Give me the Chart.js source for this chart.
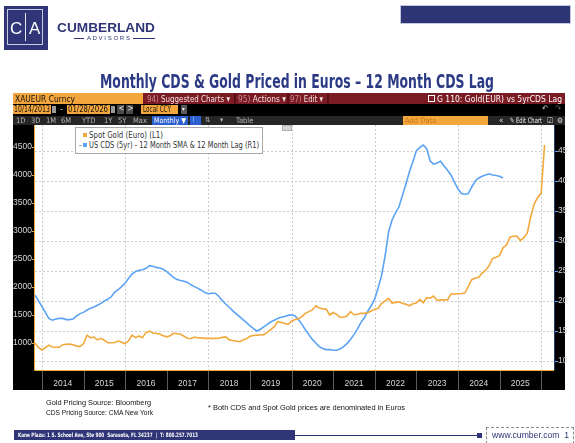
<!DOCTYPE html>
<html><head><meta charset="utf-8">
<script src="https://cdn.jsdelivr.net/npm/chart.js@4.4.1/dist/chart.umd.min.js"></script>
<style>
html,body{margin:0;padding:0;background:#fff;width:575px;height:443px;overflow:hidden;}
#wrap{position:relative;width:575px;height:443px;}
canvas{position:absolute;left:0;top:0;}
.a{position:absolute;white-space:nowrap;line-height:1;}
.f{display:inline-block;transform-origin:0 0;}
.bb{font-family:"Liberation Sans Narrow","DejaVu Sans Condensed","Liberation Sans","DejaVu Sans",sans-serif;}
.ar{font-family:"Liberation Sans",Arial,sans-serif;}
.box{position:absolute;}
</style></head>
<body><div id="wrap">
<canvas id="c" width="575" height="443"></canvas>

<!-- logo -->
<div class="box" style="left:4px;top:6px;width:44px;height:44px;background:#2f3576;"></div>
<div class="box" style="left:7px;top:9px;width:36px;height:36px;border:1px solid #c9cbe0;box-sizing:border-box;"></div>
<div class="box" style="left:25px;top:13px;width:1px;height:28px;background:#e6e7f0;"></div>
<div class="a ar" style="left:10px;top:20px;font-size:17px;color:#fff;">C</div>
<div class="a ar" style="left:29px;top:20px;font-size:17px;color:#fff;">A</div>
<div class="a ar" style="left:57px;top:22px;font-size:12px;color:#2f3576;font-weight:bold;"><span class="f" data-w="98">CUMBERLAND</span></div>
<div class="box" style="left:74px;top:38px;width:10px;height:1px;background:#2f3576;"></div>
<div class="box" style="left:133px;top:38px;width:22px;height:1px;background:#2f3576;"></div>
<div class="a ar" style="left:87px;top:35.5px;font-size:5.5px;color:#2f3576;"><span class="f" data-w="43">A D V I S O R S</span></div>
<div class="box" style="left:401px;top:6px;width:169px;height:17px;background:#2e3574;box-shadow:0 0 0 1px #c4c6e2;"></div>

<!-- title -->
<div class="a bb" style="left:100px;top:72px;font-size:19px;font-weight:bold;color:#2c3a85;"><span class="f" data-w="394">Monthly CDS &amp; Gold Priced in Euros – 12 Month CDS Lag</span></div>

<!-- bloomberg row 1 -->
<div class="box" style="left:13px;top:93px;width:130px;height:11px;background:#f3a63c;"></div>
<div class="box" style="left:143px;top:93px;width:422px;height:11px;background:#7b1b24;"></div>
<div class="box" style="left:234px;top:93px;width:2px;height:11px;background:#5a0f16;"></div>
<div class="box" style="left:287px;top:93px;width:2px;height:11px;background:#5a0f16;"></div>
<div class="box" style="left:327px;top:93px;width:2px;height:11px;background:#5a0f16;"></div>
<div class="a bb" style="left:15px;top:94px;font-size:9.5px;color:#111;"><span class="f" data-w="60">XAUEUR Curncy</span></div>
<div class="a bb" style="left:147px;top:94px;font-size:9.5px;color:#f3e3e3;"><span class="f" data-w="83"><span style="color:#c98b8f">94)</span> Suggested Charts ▾</span></div>
<div class="a bb" style="left:238px;top:94px;font-size:9.5px;color:#f3e3e3;"><span class="f" data-w="48"><span style="color:#c98b8f">95)</span> Actions ▾</span></div>
<div class="a bb" style="left:290px;top:94px;font-size:9.5px;color:#f3e3e3;"><span class="f" data-w="33"><span style="color:#c98b8f">97)</span> Edit ▾</span></div>
<div class="box" style="left:428px;top:95px;width:5px;height:5px;border:1px solid #fff;"></div>
<div class="a bb" style="left:437px;top:94px;font-size:9.5px;color:#fff;"><span class="f" data-w="125">G 110: Gold(EUR) vs 5yrCDS Lag</span></div>

<!-- row 2 -->
<div class="box" style="left:13px;top:105px;width:38px;height:9px;background:#f3a63c;"></div>
<div class="a bb" style="left:14px;top:105px;font-size:9px;color:#111;"><span class="f" data-w="36">10/14/2013</span></div>
<div class="box" style="left:52px;top:106px;width:4px;height:7px;background:#9a9a9a;"></div>
<div class="a bb" style="left:60px;top:105px;font-size:9px;color:#ddd;">-</div>
<div class="box" style="left:67px;top:105px;width:43px;height:9px;background:#f3a63c;"></div>
<div class="a bb" style="left:68px;top:105px;font-size:9px;color:#111;"><span class="f" data-w="40">01/28/2026</span></div>
<div class="box" style="left:111px;top:106px;width:4px;height:7px;background:#9a9a9a;"></div>
<div class="box" style="left:117px;top:105px;width:7px;height:9px;background:#4a4a4a;"></div>
<div class="box" style="left:126px;top:105px;width:7px;height:9px;background:#4a4a4a;"></div>
<div class="a bb" style="left:118.5px;top:105px;font-size:8px;color:#eee;">&lt;</div>
<div class="a bb" style="left:127.5px;top:105px;font-size:8px;color:#eee;">&gt;</div>
<div class="box" style="left:141px;top:105px;width:37px;height:9px;background:#f3a63c;"></div>
<div class="a bb" style="left:143px;top:105px;font-size:9px;color:#111;"><span class="f" data-w="28">Local CCY</span></div>
<div class="box" style="left:181px;top:105px;width:6px;height:9px;background:#5a5a5a;"></div>
<div class="a bb" style="left:182px;top:106px;font-size:6px;color:#eee;">▾</div>
<div class="a bb" style="left:542px;top:105px;font-size:8px;color:#ccc;">↶</div>
<div class="a bb" style="left:555px;top:105px;font-size:8px;color:#666;">↷</div>

<!-- row 3 -->
<div class="box" style="left:13px;top:116px;width:552px;height:9px;background:#262626;"></div>
<div class="a bb" style="left:16px;top:117px;font-size:7.5px;color:#b5b5b5;">1D</div>
<div class="a bb" style="left:31px;top:117px;font-size:7.5px;color:#b5b5b5;">3D</div>
<div class="a bb" style="left:46px;top:117px;font-size:7.5px;color:#b5b5b5;">1M</div>
<div class="a bb" style="left:61px;top:117px;font-size:7.5px;color:#b5b5b5;">6M</div>
<div class="a bb" style="left:82px;top:117px;font-size:7.5px;color:#b5b5b5;">YTD</div>
<div class="a bb" style="left:104px;top:117px;font-size:7.5px;color:#b5b5b5;">1Y</div>
<div class="a bb" style="left:118px;top:117px;font-size:7.5px;color:#b5b5b5;">5Y</div>
<div class="a bb" style="left:133px;top:117px;font-size:7.5px;color:#b5b5b5;">Max</div>
<div class="box" style="left:152px;top:116px;width:36px;height:9px;background:#2c5fcf;"></div>
<div class="a bb" style="left:154px;top:117px;font-size:7.5px;color:#fff;"><span class="f" data-w="32">Monthly ▼</span></div>
<div class="box" style="left:190px;top:116px;width:11px;height:9px;background:#2c5fcf;"></div>
<div class="a bb" style="left:192px;top:116.5px;font-size:7px;color:#9fc0ff;">⌇</div>
<div class="a bb" style="left:205px;top:117px;font-size:7px;color:#b5b5b5;">⇅</div>
<div class="a bb" style="left:220px;top:117px;font-size:7px;color:#b5b5b5;">▾</div>
<div class="a bb" style="left:236px;top:117px;font-size:7.5px;color:#b5b5b5;">Table</div>
<div class="box" style="left:403px;top:116px;width:85px;height:9px;background:#f3a63c;"></div>
<div class="a bb" style="left:405px;top:117px;font-size:7.5px;color:#c9781c;">Add Data</div>
<div class="a bb" style="left:499px;top:116.5px;font-size:8px;color:#ddd;">«</div>
<div class="a bb" style="left:510px;top:117px;font-size:7.5px;color:#eee;"><span class="f" data-w="32">✎ Edit Chart</span></div>
<div class="a bb" style="left:547px;top:116.5px;font-size:7.5px;color:#ddd;">☑</div>
<div class="a bb" style="left:557px;top:116.5px;font-size:7.5px;color:#ddd;">⚙</div>

<!-- legend -->
<div class="box" style="left:75px;top:127px;width:188px;height:27px;background:#fff;border:1px solid #a8a8a8;box-sizing:border-box;"></div>
<div class="box" style="left:83px;top:133px;width:4px;height:4px;background:#f2a93b;"></div>
<div class="box" style="left:79px;top:145px;width:3px;height:1px;background:#aaa;"></div>
<div class="box" style="left:83px;top:143px;width:4px;height:4px;background:#5ba3f5;"></div>
<div class="a bb" style="left:89px;top:131px;font-size:8.5px;color:#333;"><span class="f" data-w="74">Spot Gold (Euro) (L1)</span></div>
<div class="a bb" style="left:89px;top:141px;font-size:8.5px;color:#333;"><span class="f" data-w="170">US CDS (5yr) - 12 Month SMA &amp; 12 Month Lag (R1)</span></div>
<div class="box" style="left:282px;top:125px;width:10px;height:6px;background:#d6d6d6;border:1px solid #b0b0b0;box-sizing:border-box;"></div>

<!-- notes -->
<div class="a ar" style="left:46px;top:399px;font-size:7.6px;color:#111;"><span class="f" data-w="105">Gold Pricing Source: Bloomberg</span></div>
<div class="a ar" style="left:46px;top:409px;font-size:7.6px;color:#111;"><span class="f" data-w="107">CDS Pricing Source: CMA New York</span></div>
<div class="a ar" style="left:208px;top:404px;font-size:7.6px;color:#111;"><span class="f" data-w="197">* Both CDS and Spot Gold prices are denominated in Euros</span></div>

<!-- footer -->
<div class="box" style="left:14px;top:430px;width:281px;height:10px;background:#2f3576;"></div>
<div class="a bb" style="left:18px;top:432px;font-size:6px;font-weight:bold;color:#fff;"><span class="f" data-w="180">Kane Plaza: 1 S. School Ave, Ste 900 &nbsp;Sarasota, FL 34237 &nbsp;| &nbsp;T: 800.257.7013</span></div>
<div class="box" style="left:295px;top:435px;width:182px;height:1px;background:#2f3576;"></div>
<div class="box" style="left:477px;top:433px;width:5px;height:5px;background:#2f3576;"></div>
<div class="box" style="left:486px;top:427px;width:88px;height:17px;border:1px dashed #8a8a8a;box-sizing:border-box;"></div>
<div class="a ar" style="left:492px;top:431px;font-size:8.5px;color:#2f3576;"><span class="f" data-w="77">www.cumber.com &nbsp;1</span></div>
</div>

<script>
// ---- data ----
const startYear = 2013;
const startMonth = 10; // first point: end of October 2013, then monthly
const yearLabels = ['2014','2015','2016','2017','2018','2019','2020','2021','2022','2023','2024','2025'];
const goldTicks = [1000,1500,2000,2500,3000,3500,4000,4500];
const cdsTicks = [10,15,20,25,30,35,40,45];
const goldValues = [
 995,920,875,920,962,930,923,923,970,977,
 980,970,945,940,985,1140,1095,1107,1055,1083,
 1050,1005,1005,1010,1036,1012,985,1040,1140,1095,
 1125,1095,1185,1212,1180,1170,1160,1130,1110,1130,
 1173,1165,1155,1120,1085,1080,1107,1090,1092,1083,
 1083,1083,1083,1085,1100,1110,1060,1045,1035,1024,
 1055,1075,1120,1135,1140,1143,1150,1190,1240,1292,
 1381,1365,1350,1333,1390,1420,1435,1470,1530,1560,
 1590,1666,1625,1610,1605,1500,1545,1512,1460,1465,
 1482,1560,1505,1515,1530,1530,1540,1571,1605,1620,
 1708,1750,1798,1714,1725,1735,1710,1690,1665,1700,
 1715,1780,1720,1810,1800,1840,1760,1770,1770,1768,
 1875,1875,1880,1885,1893,2010,2130,2160,2175,2250,
 2300,2380,2510,2530,2560,2700,2750,2890,2905,2911,
 2830,2880,2960,3250,3480,3600,3673,4536
];
const cdsValues = [
 21.0,20.0,19.1,18.1,17.1,16.8,17.0,17.1,17.1,16.9,
 16.9,17.0,17.5,17.9,18.1,18.5,18.8,19.0,19.3,19.6,
 20.0,20.3,20.7,21.5,21.9,22.4,23.0,23.8,24.5,24.9,
 25.1,25.2,25.4,25.9,25.8,25.6,25.5,25.3,24.9,24.4,
 23.9,23.6,23.4,23.3,23.1,22.7,22.4,22.1,21.8,21.4,
 21.2,21.3,21.3,20.8,20.1,19.5,19.0,18.4,17.9,17.4,
 16.9,16.4,15.9,15.4,15.0,15.3,15.7,16.1,16.5,16.8,
 17.1,17.3,17.4,17.6,17.7,17.5,16.9,16.1,15.2,14.4,
 13.6,13.0,12.4,12.1,11.9,11.9,11.8,11.8,12.0,12.4,
 12.9,13.6,14.4,15.3,16.4,17.2,18.3,19.2,20.3,22.2,
 24.3,27.5,31.5,33.5,34.7,35.7,37.6,39.5,41.5,43.2,
 45.0,45.6,46.0,45.4,43.3,42.8,43.0,43.3,42.5,41.8,
 41.0,39.8,38.7,37.9,37.8,37.9,39.0,40.0,40.5,40.8,
 41.0,41.2,41.0,40.9,40.8,40.5
];
// axis ranges
const xMin = startYear + startMonth / 12, xMax = 2026.31;
const goldMin = 518, goldMax = 4893;
const cdsMin = 8.5, cdsMax = 49.33;

// fit text widths
document.querySelectorAll('.f[data-w]').forEach(el => {
  const w = el.getBoundingClientRect().width;
  if (w > 0) el.style.transform = 'scaleX(' + (parseFloat(el.dataset.w) / w) + ')';
});

const toPts = arr => arr.map((v, i) => ({ x: startYear + (startMonth + i) / 12, y: v }));

const framePlugin = {
  id: 'frame',
  beforeDraw(chart) {
    const ctx = chart.ctx, a = chart.chartArea;
    ctx.save();
    ctx.fillStyle = '#fff';
    ctx.fillRect(0, 0, chart.width, chart.height);
    ctx.fillStyle = '#000';
    ctx.fillRect(13, 93, 552, a.bottom + 20 - 93);
    ctx.fillStyle = '#fff';
    ctx.fillRect(a.left, a.top, a.right - a.left, a.bottom - a.top);
    ctx.restore();
  },
  beforeDatasetsDraw(chart) {
    const ctx = chart.ctx, a = chart.chartArea;
    const xs = chart.scales.x, yl = chart.scales.y, yr = chart.scales.y2;
    ctx.save();
    ctx.lineWidth = 1;
    ctx.strokeStyle = '#cdcdcd';
    ctx.setLineDash([2, 2]);
    cdsTicks.forEach(v => {
      const y = Math.round(yr.getPixelForValue(v)) + 0.5;
      ctx.beginPath(); ctx.moveTo(a.left, y); ctx.lineTo(a.right, y); ctx.stroke();
    });
    const bounds = yearLabels.map(Number).concat([Number(yearLabels[yearLabels.length - 1]) + 1]);
    bounds.filter(y => y % 2 === 0).forEach(yv => {
      const x = Math.round(xs.getPixelForValue(yv)) + 0.5;
      ctx.beginPath(); ctx.moveTo(x, a.top); ctx.lineTo(x, a.bottom); ctx.stroke();
    });
    ctx.setLineDash([]);
    // year separators in the axis band
    ctx.strokeStyle = '#5c5c5c';
    bounds.forEach(yv => {
      const x = Math.round(xs.getPixelForValue(yv)) + 0.5;
      ctx.beginPath(); ctx.moveTo(x, a.bottom); ctx.lineTo(x, a.bottom + 20); ctx.stroke();
    });
    // axis lines
    ctx.strokeStyle = '#f2a93b';
    ctx.beginPath(); ctx.moveTo(a.left - 0.5, a.top); ctx.lineTo(a.left - 0.5, a.bottom + 0.5); ctx.lineTo(a.right, a.bottom + 0.5); ctx.stroke();
    goldTicks.forEach(v => {
      const y = Math.round(yl.getPixelForValue(v)) + 0.5;
      ctx.beginPath(); ctx.moveTo(a.left - 3, y); ctx.lineTo(a.left, y); ctx.stroke();
    });
    ctx.strokeStyle = '#24406e';
    ctx.beginPath(); ctx.moveTo(a.right + 0.5, a.top); ctx.lineTo(a.right + 0.5, a.bottom); ctx.stroke();
    ctx.strokeStyle = '#5ba3f5';
    cdsTicks.forEach(v => {
      const y = Math.round(yr.getPixelForValue(v)) + 0.5;
      ctx.beginPath(); ctx.moveTo(a.right + 1, y); ctx.lineTo(a.right + 4, y); ctx.stroke();
    });
    ctx.restore();
  }
};

const tickFont = { family: '"Liberation Sans", Arial, sans-serif', size: 8.5 };
new Chart(document.getElementById('c').getContext('2d'), {
  type: 'line',
  data: {
    datasets: [
      { label: 'Spot Gold (Euro) (L1)', data: toPts(goldValues), yAxisID: 'y',
        borderColor: '#f2a93b', borderWidth: 1.6, pointRadius: 0, tension: 0, fill: false },
      { label: 'US CDS (5yr) - 12 Month SMA & 12 Month Lag (R1)', data: toPts(cdsValues), yAxisID: 'y2',
        borderColor: '#5ba3f5', borderWidth: 1.6, pointRadius: 0, tension: 0, fill: false }
    ]
  },
  options: {
    responsive: false, animation: false,
    layout: { padding: { left: 10, right: 7, top: 125, bottom: 53 } },
    plugins: { legend: { display: false }, tooltip: { enabled: false } },
    scales: {
      x: {
        type: 'linear', min: xMin, max: xMax,
        afterFit: s => { s.height = 20; },
        afterBuildTicks: s => { s.ticks = yearLabels.map(y => ({ value: Number(y) + 0.5 })); },
        ticks: { autoSkip: false, maxRotation: 0, padding: 9, color: '#d6d6d6', font: tickFont,
                 callback: (v, i) => yearLabels[i] },
        grid: { display: false, drawTicks: false }, border: { display: false }
      },
      y: {
        position: 'left', min: goldMin, max: goldMax,
        afterFit: s => { s.width = 25; },
        afterBuildTicks: s => { s.ticks = goldTicks.map(v => ({ value: v })); },
        ticks: { padding: 0, color: '#d6d6d6', font: tickFont, callback: v => String(v) },
        grid: { display: false, drawTicks: true, tickLength: 3 }, border: { display: false }
      },
      y2: {
        position: 'right', min: cdsMin, max: cdsMax,
        afterFit: s => { s.width = 14; },
        afterBuildTicks: s => { s.ticks = cdsTicks.map(v => ({ value: v })); },
        ticks: { padding: 0, color: '#d6d6d6', font: tickFont, callback: v => String(v) },
        grid: { display: false, drawTicks: true, tickLength: 4 }, border: { display: false }
      }
    }
  },
  plugins: [framePlugin]
});
</script>
</body></html>
